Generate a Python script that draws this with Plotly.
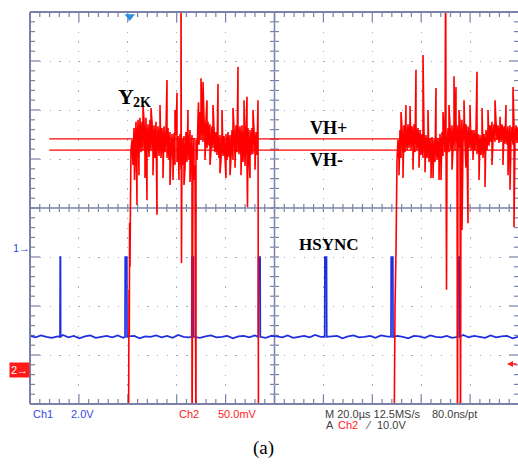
import numpy as np
import plotly.graph_objects as go

# ---------------- time base / screen (20 us/div, 8 vertical divisions) ----------------
T_LEFT, T_RIGHT = -40.0, 159.59      # us
T_RIGHT_EDGE = 160.0
T_CENTER = 60.0
Y_MIN, Y_MAX = -4.0, 4.0             # screen divisions
OFF_LOW, OFF_HIGH = -5.0, 5.0        # trace clipped beyond screen

# ---------------- Ch2 (red) : Y2K comparator input, in divisions ----------------
ch2_dt = 0.818
ch2_r1_t0 = 1.718
ch2_r1_hi = [1.39, 1.63, 1.76, 1.80, 1.84, 1.76, 1.80, 1.84, 1.71, 1.80, 1.76, 1.69, 1.76, 1.67, 1.69,
             1.63, 1.67, 1.59, 1.63, 1.55, 1.51, 1.53, 1.49, 1.47, 1.51, 1.43, 1.47, 1.55, 1.51, 1.59,
             1.49, 1.43, 1.39, 1.84, 1.96, 1.90, 1.84, 1.80, 1.76, 1.71, 1.67, 1.63, 1.55, 1.51, 1.49,
             1.53, 1.47, 1.51, 1.55, 1.49, 1.59, 1.63, 1.69, 1.71, 1.67, 1.69, 1.63, 1.59, 1.63, 1.59,
             1.63, 1.59, 1.55]
ch2_r1_lo = [0.88, 1.02, 1.08, 1.06, 1.14, 1.18, 1.08, 1.14, 1.04, 1.18, 1.10, 1.02, 1.14, 1.06, 1.02,
             1.08, 1.14, 1.02, 0.98, 1.02, 0.94, 0.88, 0.94, 0.82, 0.78, 0.88, 0.82, 0.94, 0.98, 1.02,
             0.94, 0.88, 0.98, 1.29, 1.39, 1.35, 1.29, 1.22, 1.27, 1.18, 1.22, 1.14, 1.08, 1.02, 0.98,
             1.06, 1.02, 0.98, 1.04, 1.02, 0.98, 1.06, 1.14, 1.10, 1.02, 0.94, 0.86, 0.88, 1.02, 1.08,
             1.10, 1.14, 1.08]
ch2_r1_spike_t = [2.74, 3.76, 4.58, 6.22, 7.04, 7.85, 9.49, 10.31, 11.94, 13.17, 14.40, 16.03, 17.26,
                  18.49, 19.31, 20.12, 20.94, 21.76, 21.96, 22.99, 24.62, 25.44, 26.26, 27.08, 27.89,
                  28.92, 29.94, 30.76, 31.58, 32.39, 33.62, 34.85, 36.89, 37.71, 38.53, 40.16, 41.80,
                  43.03, 43.85, 45.07, 46.30, 47.53, 48.75, 48.96, 49.98, 51.21, 52.03]
ch2_r1_spike_v = [0.57, 0.06, 0.67, 2.10, 0.61, 0.16, 2.04, 0.67, -0.14, 2.10, 0.61, 2.61, 0.47,
                  0.57, 2.00, 2.35, 0.57, 5.00, -1.12, 0.47, 2.00, 0.53, -5.00, 0.57, -5.00,
                  2.16, 2.65, 2.57, 0.98, 2.20, 0.88, 2.10, 2.53, 0.71, 2.00, 0.61, 0.67,
                  2.04, 0.82, 2.88, 0.67, 2.20, 2.27, 0.02, 0.61, 2.00, 0.78]
ch2_rise1_t = [0.29, 0.49, 0.60, 0.75, 0.90, 1.10, 1.31]
ch2_rise1_v = [-5.0, -1.67, -2.60, -0.30, -1.20, 0.16, 1.18]
ch2_fall1_t = [53.05, 53.25, 53.46]
ch2_fall1_v = [1.59, 2.20, -5.0]

ch2_rise2_t = [108.88, 109.29, 109.70, 110.10]
ch2_rise2_v = [-5.0, -2.02, -0.86, 0.98]
ch2_r2_t0 = 110.51
ch2_r2_hi = [1.39, 1.59, 1.63, 1.69, 1.67, 1.71, 1.76, 1.67, 1.71, 1.69, 1.63, 1.59, 1.51, 1.55, 1.49,
             1.47, 1.43, 1.45, 1.39, 1.47, 1.43, 1.51, 1.55, 1.59, 1.59, 1.63, 1.67, 1.69, 1.71, 1.76,
             1.69, 1.76, 1.80, 1.76, 1.71, 1.67, 1.63, 1.59, 1.59, 1.55, 1.51, 1.49, 1.47, 1.51, 1.59,
             1.63, 1.69, 1.76, 1.71, 1.76, 1.69, 1.67, 1.71, 1.67, 1.63, 1.67, 1.69, 1.65, 1.67, 1.69,
             1.65]
ch2_r2_lo = [0.94, 1.02, 1.08, 1.14, 1.18, 1.22, 1.18, 1.22, 1.14, 1.18, 1.14, 1.08, 1.02, 0.98, 1.02,
             0.94, 0.90, 0.88, 0.94, 0.98, 0.92, 1.02, 1.06, 1.14, 1.08, 1.14, 1.18, 1.22, 1.18, 1.27,
             1.22, 1.29, 1.33, 1.29, 1.27, 1.22, 1.18, 1.14, 1.18, 1.10, 1.06, 1.08, 1.02, 1.08, 1.18,
             1.27, 1.35, 1.39, 1.35, 1.39, 1.33, 1.35, 1.39, 1.31, 1.29, 1.33, 1.35, 1.29, 1.35, 1.33,
             1.31]
ch2_r2_spike_t = [110.92, 111.74, 112.56, 113.78, 115.42, 116.65, 117.87, 119.10, 120.74, 121.56,
                  122.78, 124.01, 124.83, 126.05, 127.28, 128.10, 128.92, 130.00, 130.35, 131.37,
                  132.60, 133.42, 134.23, 134.85, 135.46, 136.07, 136.69, 137.51, 138.32, 139.14,
                  139.96, 141.19, 142.82, 143.64, 144.87, 146.10, 147.32, 148.96, 150.19, 152.23,
                  153.46, 154.68, 155.50, 156.32, 157.55, 157.96]
ch2_r2_spike_v = [0.67, 1.96, 0.61, 2.10, 2.08, 0.78, 2.82, 0.82, 3.12, 0.73,
                  2.00, 0.61, 0.61, 2.45, 0.57, 0.57, 1.96, 5.00, -1.67, 2.10,
                  0.78, 2.69, 2.47, -5.00, 2.00, -5.00, -0.45, 2.20, 0.82, -0.31,
                  2.10, 0.98, 2.78, 0.57, 2.04, 0.43, 2.00, 0.88, 2.20, 1.86,
                  0.88, 2.10, 0.67, 0.37, 2.47, -0.39]

# hysteresis thresholds (cursor lines)
VH_PLUS, VH_MINUS = 1.41, 1.18
CURSOR_START = -32.1

# ---------------- Ch1 (blue) : HSYNC ----------------
CH1_BASE, CH1_HIGH = -2.63, -1.00
hsync_rise_t = [-27.73, -1.14, 26.14, 53.37, 80.53, 107.65, 134.93]
hsync_width = [0.2, 0.75, 0.75, 0.75, 0.75, 0.75, 0.75]
ch1_noise = [0.02, -0.01, 0.03, 0.00, -0.02, 0.01, 0.04, -0.01, 0.02, -0.03,
             0.01, 0.03, -0.02, 0.00, 0.02, -0.01, 0.03, -0.02, 0.01, 0.02,
             -0.03, 0.01, 0.00, 0.03, -0.01, 0.02, -0.02, 0.04, 0.00, -0.01,
             0.02, -0.02, 0.01, 0.03, -0.01, 0.00, 0.02, -0.03, 0.01, 0.02,
             -0.01, 0.03, 0.00, -0.02, 0.02, 0.01, -0.01, 0.03, -0.02, 0.00,
             0.02, -0.01, 0.04, 0.00, -0.02, 0.01, 0.02, -0.03, 0.01, 0.03,
             -0.01, 0.00, 0.02, -0.02, 0.03, 0.01, -0.01, 0.02, 0.00, -0.03,
             0.02, 0.01, -0.02, 0.03, 0.00, -0.01, 0.02, -0.02, 0.01, 0.04,
             -0.01, 0.02, 0.00, -0.02, 0.03, -0.01, 0.01, 0.02, -0.03, 0.00]

TRIGGER_T = 0.8

# ---------------- build traces ----------------
def band(t0, hi, lo, sp_t, sp_v):
    seg = []
    for i, (h, l) in enumerate(zip(hi, lo)):
        t = t0 + i * ch2_dt
        seg.append((t, h))
        seg.append((t + ch2_dt / 2, l))
    seg += list(zip(sp_t, sp_v))
    seg.sort(key=lambda p: p[0])
    return seg

pts = [(T_LEFT, OFF_LOW)] + list(zip(ch2_rise1_t, ch2_rise1_v))
pts += band(ch2_r1_t0, ch2_r1_hi, ch2_r1_lo, ch2_r1_spike_t, ch2_r1_spike_v)
pts += list(zip(ch2_fall1_t, ch2_fall1_v))
pts += list(zip(ch2_rise2_t, ch2_rise2_v))
pts += band(ch2_r2_t0, ch2_r2_hi, ch2_r2_lo, ch2_r2_spike_t, ch2_r2_spike_v)
ch2_t = [p[0] for p in pts]
ch2_v = [p[1] for p in pts]

noise_t = np.linspace(T_LEFT, T_RIGHT, len(ch1_noise))
bpts = []
for t, n in zip(noise_t, ch1_noise):
    if any(tr - 0.3 <= t <= tr + w + 0.4 for tr, w in zip(hsync_rise_t, hsync_width)):
        continue
    bpts.append((t, CH1_BASE + n))
for tr, w in zip(hsync_rise_t, hsync_width):
    bpts += [(tr, CH1_BASE), (tr + 0.08, CH1_HIGH), (tr + w, CH1_HIGH), (tr + w + 0.08, CH1_BASE)]
bpts.sort(key=lambda p: p[0])
ch1_t = [p[0] for p in bpts]
ch1_v = [p[1] for p in bpts]

RED = "#ff0000"
BLUE = "#1f2fe0"
GRAT = "#7a80a6"

fig = go.Figure()
fig.add_trace(go.Scatter(x=ch1_t, y=ch1_v, mode="lines",
                         line=dict(color=BLUE, width=1.7, simplify=False), hoverinfo="skip"))
fig.add_trace(go.Scatter(x=[CURSOR_START, T_RIGHT_EDGE], y=[VH_PLUS, VH_PLUS], mode="lines",
                         line=dict(color=RED, width=1.3), hoverinfo="skip"))
fig.add_trace(go.Scatter(x=[CURSOR_START, T_RIGHT_EDGE], y=[VH_MINUS, VH_MINUS], mode="lines",
                         line=dict(color=RED, width=1.3), hoverinfo="skip"))
fig.add_trace(go.Scatter(x=ch2_t, y=ch2_v, mode="lines",
                         line=dict(color=RED, width=1.6, simplify=False), hoverinfo="skip"))
fig.add_trace(go.Scatter(x=[TRIGGER_T], y=[3.91], mode="markers", cliponaxis=False,
                         marker=dict(symbol="triangle-down", size=9, color="#2a8ee0"),
                         hoverinfo="skip"))

# ---------------- graticule ----------------
shapes = []
tick = dict(color=GRAT, width=1.2)
for k in range(1, 50):
    t = T_LEFT + 4 * k
    L = 10 if k % 5 == 0 else 5
    shapes.append(dict(type="line", xref="x", yref="y", ysizemode="pixel", yanchor=Y_MAX,
                       x0=t, x1=t, y0=0, y1=-L, line=tick, layer="below"))
    shapes.append(dict(type="line", xref="x", yref="y", ysizemode="pixel", yanchor=Y_MIN,
                       x0=t, x1=t, y0=0, y1=L, line=tick, layer="below"))
    shapes.append(dict(type="line", xref="x", yref="y", ysizemode="pixel", yanchor=0,
                       x0=t, x1=t, y0=-4, y1=4, line=tick, layer="below"))
for k in range(1, 40):
    y = Y_MIN + 0.2 * k
    L = 10 if k % 5 == 0 else 5
    shapes.append(dict(type="line", xref="x", yref="y", xsizemode="pixel", xanchor=T_LEFT,
                       y0=y, y1=y, x0=0, x1=L, line=tick, layer="below"))
    shapes.append(dict(type="line", xref="x", yref="y", xsizemode="pixel", xanchor=T_RIGHT_EDGE,
                       y0=y, y1=y, x0=0, x1=-L, line=tick, layer="below"))
    shapes.append(dict(type="line", xref="x", yref="y", xsizemode="pixel", xanchor=T_CENTER,
                       y0=y, y1=y, x0=-4.5, x1=4.5, line=tick, layer="below"))
shapes.append(dict(type="line", xref="x", yref="y", x0=T_CENTER, x1=T_CENTER, y0=Y_MIN, y1=Y_MAX,
                   line=dict(color=GRAT, width=1.5), layer="below"))
shapes.append(dict(type="line", xref="x", yref="y", x0=T_LEFT, x1=T_RIGHT_EDGE, y0=0, y1=0,
                   line=dict(color=GRAT, width=1.5), layer="below"))
border = dict(color=GRAT, width=2)
shapes.append(dict(type="line", xref="paper", yref="paper", x0=0, x1=0, y0=0, y1=1, line=border))
shapes.append(dict(type="line", xref="paper", yref="paper", x0=0, x1=1, y0=1, y1=1, line=border))
shapes.append(dict(type="line", xref="paper", yref="paper", x0=0, x1=1, y0=0, y1=0, line=border))

# ---------------- text ----------------
SERIF = "Liberation Serif, Times New Roman, serif"
SANS = "Liberation Sans, Arial, sans-serif"
ann = []
def txt(x, y, s, size, color="#000000", family=SERIF, xanchor="left", ref="data", **kw):
    r = dict(xref="x", yref="y") if ref == "data" else dict(xref="paper", yref="paper")
    ann.append(dict(x=x, y=y, text=s, showarrow=False, xanchor=xanchor, yanchor="middle",
                    font=dict(family=family, size=size, color=color), **r, **kw))

txt(-4.9, 2.27, "<b>Y</b>", 22)
txt(1.3, 2.15, "<b>2K</b>", 14)
txt(73.6, 1.64, "<b>VH+</b>", 18)
txt(73.6, 0.97, "<b>VH-</b>", 18)
txt(69.2, -0.745, "<b>HSYNC</b>", 17)

CH1_C, CH2_C, GRAY = "#3a48e8", "#ff2020", "#404040"
L1, L2 = -0.0255, -0.0536
txt(0.002, L1, "Ch1", 11, CH1_C, SANS, ref="paper")
txt(0.080, L1, "2.0V", 11, CH1_C, SANS, ref="paper")
txt(0.301, L1, "Ch2", 11, CH2_C, SANS, ref="paper")
txt(0.381, L1, "50.0mV", 11, CH2_C, SANS, ref="paper")
txt(0.600, L1, "M 20.0µs 12.5MS/s", 11, GRAY, SANS, ref="paper")
txt(0.820, L1, "80.0ns/pt", 11, GRAY, SANS, ref="paper")
txt(0.602, L2, "A", 11, GRAY, SANS, ref="paper")
txt(0.627, L2, "Ch2", 11, CH2_C, SANS, ref="paper")
txt(0.682, L2, "⁄", 11, GRAY, SANS, ref="paper")
txt(0.707, L2, "10.0V", 11, GRAY, SANS, ref="paper")
txt(0.4785, -0.112, "(a)", 19, "#000000", SERIF, xanchor="center", ref="paper")

txt(-0.0184, 0.398, "1→", 11, CH1_C, SANS, xanchor="center", ref="paper")
txt(-0.0225, 0.088, "2→", 11, "#ffffff", SANS, xanchor="center", ref="paper",
    bgcolor="#ff1a1a", borderpad=1)
ann.append(dict(x=0.9775, y=0.102, xref="paper", yref="paper", text="", showarrow=True,
                ax=12, ay=0, arrowhead=2, arrowsize=0.8, arrowwidth=1.5, arrowcolor="#ff2020"))

fig.update_layout(
    width=518, height=468,
    margin=dict(l=30, r=0, t=12, b=64, pad=0),
    paper_bgcolor="white", plot_bgcolor="white",
    showlegend=False,
    shapes=shapes, annotations=ann,
    xaxis=dict(range=[T_LEFT, T_RIGHT], tick0=T_LEFT, dtick=20, showgrid=True,
               gridcolor="#a3a8c6", gridwidth=1.2, griddash="1.2px,8.6px",
               zeroline=False, showticklabels=False, ticks="", showline=False, fixedrange=True),
    yaxis=dict(range=[Y_MIN, Y_MAX], tick0=Y_MIN, dtick=1, showgrid=True,
               gridcolor="#a3a8c6", gridwidth=1.2, griddash="1.2px,8.58px",
               zeroline=False, showticklabels=False, ticks="", showline=False, fixedrange=True),
)

fig.write_html("out.html", config={"displayModeBar": False},
               post_script="document.body.style.margin='0px';document.body.style.overflow='hidden';")
